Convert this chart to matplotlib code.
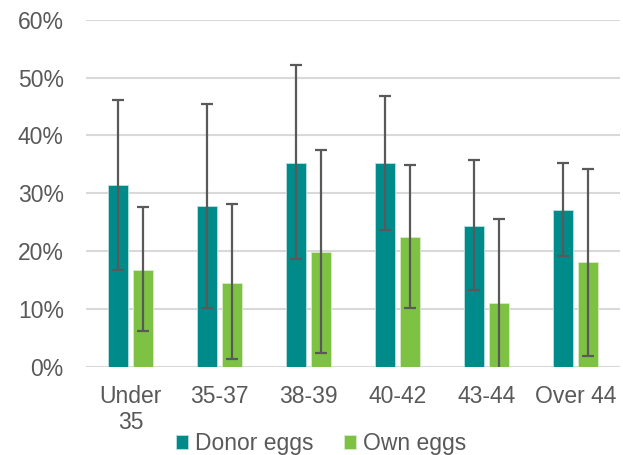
import numpy as np
import matplotlib.pyplot as plt
import matplotlib as mpl

mpl.rcParams['font.family'] = ['Liberation Sans', 'DejaVu Sans']

categories = ['Under\n35', '35-37', '38-39', '40-42', '43-44', 'Over 44']
donor = [31.4, 27.8, 35.3, 35.2, 24.4, 27.2]
donor_hi = [46.2, 45.5, 52.2, 46.8, 35.7, 35.3]
donor_lo = [16.7, 10.3, 18.6, 23.6, 13.3, 19.2]
own = [16.8, 14.6, 19.9, 22.5, 11.0, 18.1]
own_hi = [27.6, 28.1, 37.5, 34.9, 25.5, 34.2]
own_lo = [6.2, 1.4, 2.5, 10.3, -1.0, 2.0]

teal = '#008b8b'
green = '#7dc242'
grey = '#595959'

x = np.arange(len(categories))
w = 0.225
off = 0.142

fig = plt.figure(figsize=(6.23, 4.55), dpi=100)
ax = fig.add_axes([0.138, 0.193, 0.857, 0.764])

d = np.array(donor)
o = np.array(own)
ax.bar(x - off, d, w, color=teal, edgecolor='#b9e0e0', linewidth=0.6, label='Donor eggs', zorder=2)
ax.bar(x + off, o, w, color=green, edgecolor='#d8edc8', linewidth=0.6, label='Own eggs', zorder=2)

ax.errorbar(x - off, d, yerr=[d - np.array(donor_lo), np.array(donor_hi) - d],
            fmt='none', ecolor=grey, elinewidth=1.6, capsize=4.3, capthick=1.6, zorder=3)
ax.errorbar(x + off, o, yerr=[o - np.array(own_lo), np.array(own_hi) - o],
            fmt='none', ecolor=grey, elinewidth=1.6, capsize=4.3, capthick=1.6, zorder=3)

ax.set_ylim(0, 60)
ax.set_xlim(-0.5, 5.5)
ax.set_yticks(range(0, 61, 10))
ax.set_yticklabels([f'{v}%' for v in range(0, 61, 10)])
ax.set_xticks(x)
ax.set_xticklabels(categories)
ax.grid(axis='y', color='#d9d9d9', linewidth=1.5, zorder=0)
ax.set_axisbelow(True)
for s in ax.spines.values():
    s.set_visible(False)
ax.tick_params(axis='both', length=0, labelsize=16.5, labelcolor=grey)
ax.tick_params(axis='y', pad=16)
ax.tick_params(axis='x', pad=13)
for t in ax.get_xticklabels():
    t.set_linespacing(1.15)

fig.legend(loc='lower center', bbox_to_anchor=(321 / 623, -0.046), ncol=2, frameon=False,
           fontsize=16.5, labelcolor=grey, handlelength=0.55, handleheight=0.55,
           handletextpad=0.3, columnspacing=1.3)

fig.savefig('out.png', dpi=100)
